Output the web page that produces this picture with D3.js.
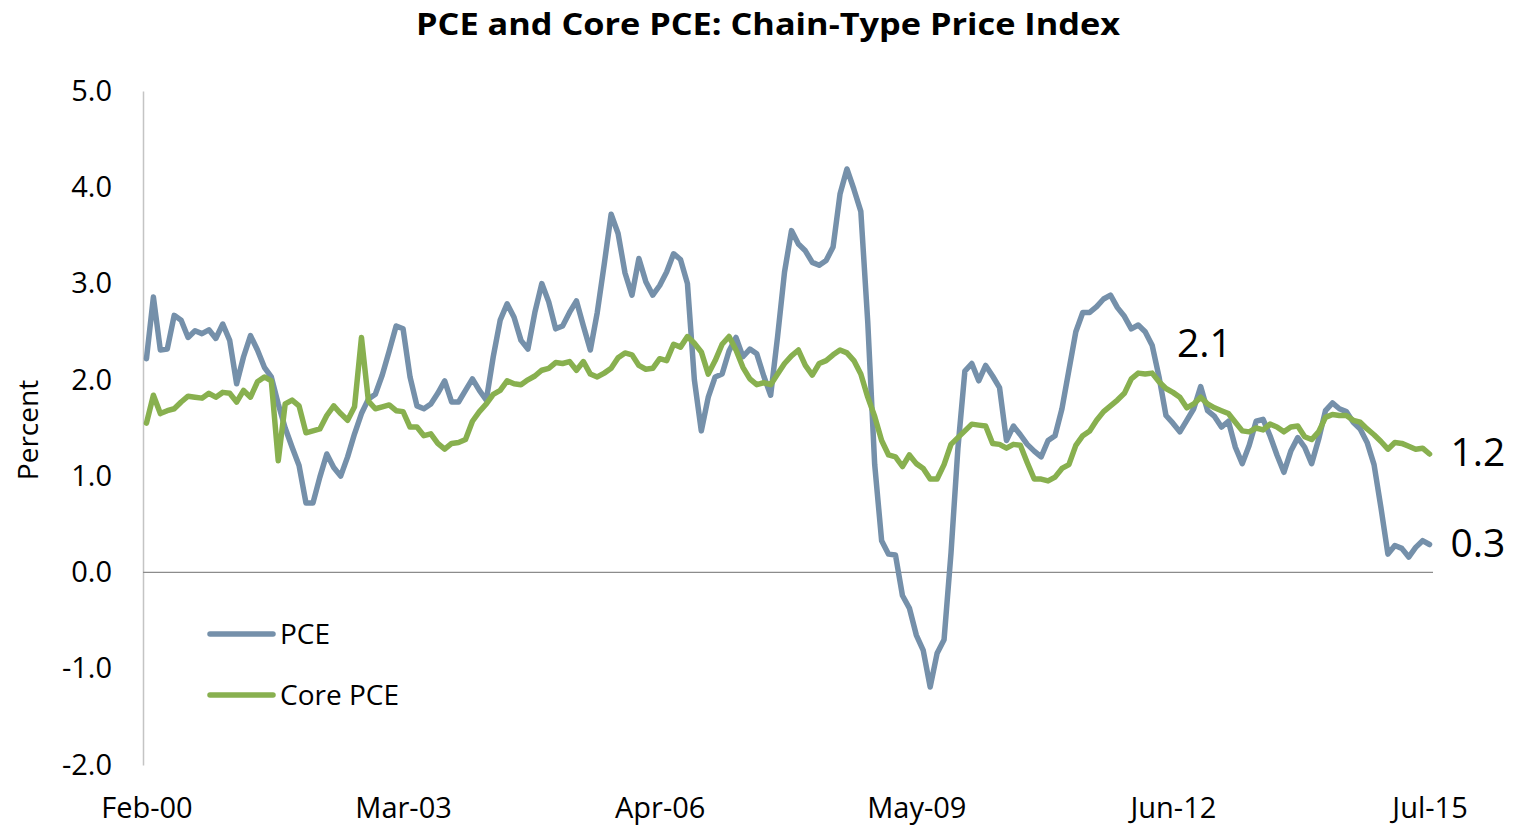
<!DOCTYPE html>
<html>
<head>
<meta charset="utf-8">
<script src="https://cdn.jsdelivr.net/npm/d3@7"></script>
<style>
  html, body { margin: 0; padding: 0; background: #fff; }
  svg { display: block; }
  text { font-family: "Open Sans", Lato, sans-serif; fill: #000; }
</style>
</head>
<body>
<svg id="chart" width="1514" height="827"></svg>
<script>
// ---- data ----
const title = "PCE and Core PCE: Chain-Type Price Index";
const startMonth = new Date(2000, 1, 1);   // Feb 2000
const endMonth = new Date(2015, 6, 1);     // Jul 2015
const months = d3.timeMonth.range(startMonth, d3.timeMonth.offset(endMonth, 1)).map(d3.timeFormat("%b-%y"));
const xTickLabels = ["Feb-00", "Mar-03", "Apr-06", "May-09", "Jun-12", "Jul-15"];
const yTicks = [-2, -1, 0, 1, 2, 3, 4, 5];

const pce = [
  2.22, 2.86, 2.31, 2.32, 2.67, 2.62, 2.44, 2.51, 2.48, 2.52,
  2.43, 2.58, 2.41, 1.96, 2.24, 2.46, 2.31, 2.13, 2.03, 1.75,
  1.50, 1.30, 1.11, 0.72, 0.72, 0.99, 1.23, 1.09, 1.00, 1.20,
  1.44, 1.65, 1.80, 1.85, 2.05, 2.30, 2.56, 2.53, 2.03, 1.73,
  1.70, 1.75, 1.86, 1.99, 1.77, 1.77, 1.89, 2.01, 1.89, 1.79,
  2.24, 2.62, 2.79, 2.65, 2.41, 2.32, 2.70, 3.00, 2.81, 2.53,
  2.56, 2.70, 2.82, 2.56, 2.31, 2.70, 3.20, 3.72, 3.52, 3.11,
  2.88, 3.26, 3.02, 2.88, 2.98, 3.12, 3.31, 3.25, 3.00, 2.00,
  1.47, 1.82, 2.03, 2.06, 2.30, 2.44, 2.24, 2.32, 2.27, 2.04,
  1.84, 2.45, 3.12, 3.55, 3.41, 3.34, 3.22, 3.19, 3.24, 3.38,
  3.93, 4.19, 3.98, 3.75, 2.60, 1.12, 0.33, 0.19, 0.18, -0.24,
  -0.37, -0.65, -0.81, -1.19, -0.84, -0.70, 0.20, 1.29, 2.09, 2.17,
  1.99, 2.15, 2.04, 1.92, 1.37, 1.52, 1.43, 1.33, 1.26, 1.20,
  1.37, 1.42, 1.70, 2.10, 2.50, 2.70, 2.70, 2.76, 2.84, 2.88,
  2.75, 2.66, 2.53, 2.57, 2.50, 2.36, 2.03, 1.63, 1.55, 1.46,
  1.58, 1.70, 1.93, 1.68, 1.62, 1.51, 1.57, 1.30, 1.13, 1.32,
  1.57, 1.59, 1.42, 1.22, 1.04, 1.26, 1.40, 1.30, 1.13, 1.38,
  1.68, 1.76, 1.70, 1.67, 1.56, 1.49, 1.35, 1.12, 0.67, 0.19,
  0.28, 0.25, 0.16, 0.26, 0.33, 0.29
];

const corePce = [
  1.55, 1.84, 1.65, 1.68, 1.70, 1.77, 1.83, 1.82, 1.81, 1.86,
  1.82, 1.87, 1.86, 1.77, 1.89, 1.82, 1.98, 2.03, 1.99, 1.16,
  1.75, 1.79, 1.73, 1.45, 1.47, 1.49, 1.63, 1.73, 1.65, 1.58,
  1.72, 2.44, 1.78, 1.70, 1.72, 1.74, 1.68, 1.67, 1.51, 1.51,
  1.42, 1.44, 1.34, 1.28, 1.34, 1.35, 1.38, 1.57, 1.67, 1.75,
  1.85, 1.89, 1.99, 1.96, 1.95, 2.00, 2.04, 2.10, 2.12, 2.18,
  2.17, 2.19, 2.10, 2.19, 2.06, 2.03, 2.07, 2.12, 2.23, 2.28,
  2.26, 2.15, 2.11, 2.12, 2.22, 2.20, 2.37, 2.34, 2.45, 2.38,
  2.29, 2.06, 2.20, 2.37, 2.45, 2.31, 2.13, 2.01, 1.95, 1.97,
  1.95, 2.06, 2.17, 2.25, 2.31, 2.15, 2.05, 2.17, 2.20, 2.26,
  2.31, 2.28, 2.20, 2.06, 1.82, 1.62, 1.37, 1.22, 1.20, 1.10,
  1.22, 1.13, 1.08, 0.97, 0.97, 1.12, 1.33, 1.40, 1.47, 1.54,
  1.53, 1.52, 1.34, 1.33, 1.29, 1.33, 1.32, 1.14, 0.97, 0.97,
  0.95, 0.99, 1.08, 1.12, 1.32, 1.42, 1.47, 1.58, 1.67, 1.73,
  1.79, 1.86, 2.01, 2.07, 2.06, 2.07, 1.98, 1.91, 1.87, 1.82,
  1.71, 1.75, 1.82, 1.75, 1.71, 1.68, 1.65, 1.56, 1.47, 1.46,
  1.50, 1.48, 1.54, 1.51, 1.46, 1.51, 1.52, 1.41, 1.38, 1.46,
  1.61, 1.64, 1.63, 1.63, 1.58, 1.56, 1.49, 1.43, 1.36, 1.28,
  1.35, 1.34, 1.31, 1.28, 1.29, 1.23
];

const seriesNames = ["PCE", "Core PCE"];
const seriesColors = ["#7590AA", "#88B04F"];
const annotations = [
  { text: "2.1", month: "Jun-12", value: 2.38, dx: 4 },
  { text: "1.2", month: "Jul-15", value: 1.25, dx: 21 },
  { text: "0.3", month: "Jul-15", value: 0.3, dx: 21 }
];

// ---- chart ----
const svg = d3.select("#chart");
const plot = { left: 143, right: 1433, top: 91, bottom: 765 };

const x = d3.scalePoint().domain(months).range([plot.left, plot.right]).padding(0.5);
const y = d3.scaleLinear().domain([-2, 5]).range([plot.bottom, plot.top]);

svg.append("text")
  .attr("x", 768).attr("y", 35)
  .attr("text-anchor", "middle")
  .attr("textLength", 704)
  .attr("lengthAdjust", "spacingAndGlyphs")
  .style("font-size", "30px").style("font-weight", "bold")
  .text(title);

// y axis
const yAxis = d3.axisLeft(y).tickValues(yTicks).tickFormat(d => d.toFixed(1)).tickSize(0).tickPadding(31);
const yG = svg.append("g").attr("transform", `translate(${plot.left},0)`).call(yAxis);
yG.select(".domain").attr("stroke", "#C4C4C4").attr("stroke-width", 1.5);
yG.selectAll("text").style("font-size", "29px").style("font-family", "'Open Sans', sans-serif").attr("fill", "#222");

// zero line
svg.append("line")
  .attr("x1", plot.left).attr("x2", plot.right)
  .attr("y1", y(0)).attr("y2", y(0))
  .attr("stroke", "#8C8C8C").attr("stroke-width", 1.2);

// x axis labels
const xAxis = d3.axisBottom(x).tickValues(xTickLabels).tickSize(0).tickPadding(32);
const xG = svg.append("g").attr("transform", `translate(0,${plot.bottom})`).call(xAxis);
xG.select(".domain").remove();
xG.selectAll("text").style("font-size", "29px").style("font-family", "'Open Sans', sans-serif").attr("fill", "#222");

// y title
svg.append("text")
  .attr("transform", `translate(28,430) rotate(-90)`)
  .attr("text-anchor", "middle")
  .attr("dy", "0.35em")
  .style("font-size", "28px")
  .text("Percent");

// lines
const line = d3.line().x((d, i) => x(months[i])).y(d => y(d)).curve(d3.curveLinear);
[pce, corePce].forEach((data, k) => {
  svg.append("path")
    .datum(data)
    .attr("d", line)
    .attr("fill", "none")
    .attr("stroke", seriesColors[k])
    .attr("stroke-width", 5.5)
    .attr("stroke-linejoin", "round")
    .attr("stroke-linecap", "round");
});

// legend
const legend = svg.append("g").attr("transform", "translate(210,634)");
seriesNames.forEach((name, k) => {
  const g = legend.append("g").attr("transform", `translate(0,${k * 61})`);
  g.append("line").attr("x1", 0).attr("x2", 63).attr("y1", 0).attr("y2", 0)
    .attr("stroke", seriesColors[k]).attr("stroke-width", 5.5).attr("stroke-linecap", "round");
  g.append("text").attr("x", 70).attr("y", 0).attr("dy", "0.35em")
    .style("font-size", "28px").attr("fill", "#222").text(name);
});

// annotations
annotations.forEach(a => {
  svg.append("text")
    .attr("x", x(a.month) + a.dx)
    .attr("y", y(a.value))
    .attr("dy", "0.35em")
    .style("font-size", "39px")
    .text(a.text);
});
</script>
</body>
</html>
